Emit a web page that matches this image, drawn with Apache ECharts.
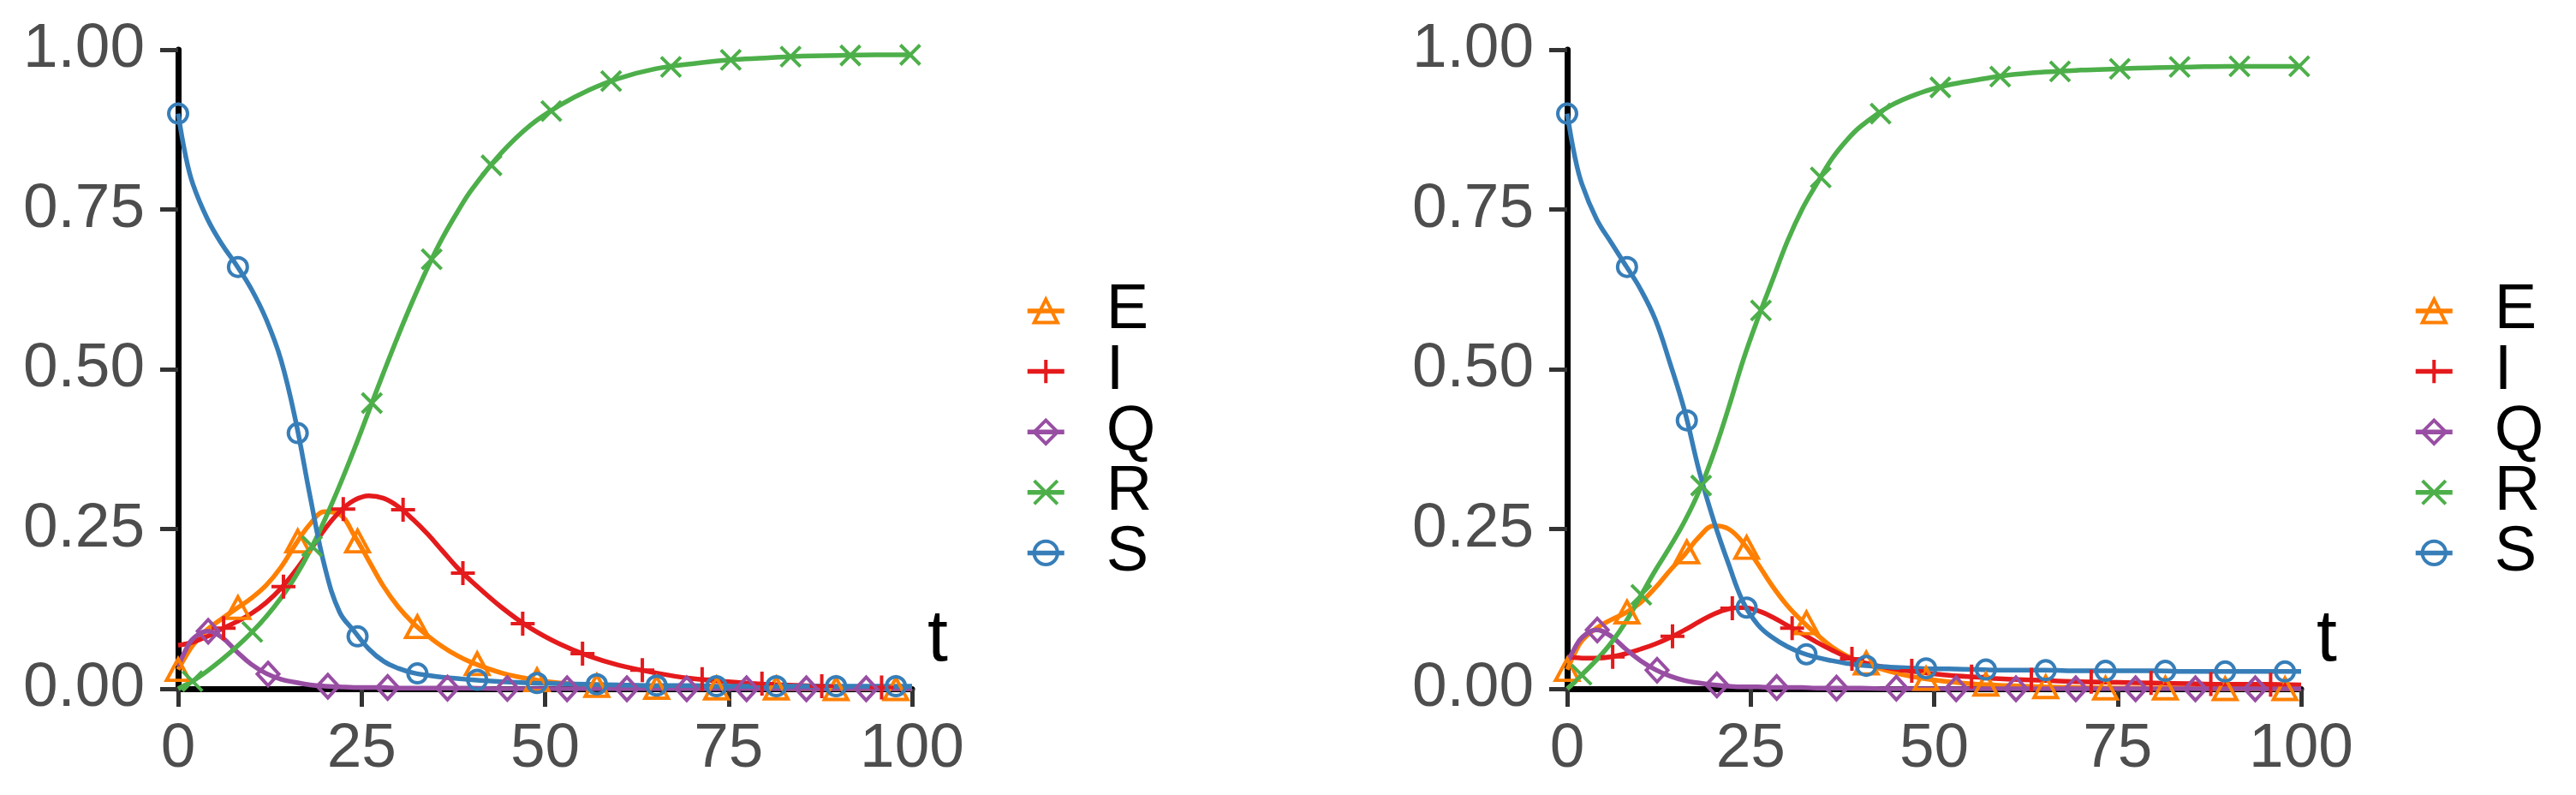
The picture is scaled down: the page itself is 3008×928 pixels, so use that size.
<!DOCTYPE html>
<html><head><meta charset="utf-8">
<script src="https://cdn.jsdelivr.net/npm/echarts@6/dist/echarts.min.js"></script>
<style>html,body{margin:0;padding:0;background:#fff}#c{width:3008px;height:928px}</style>
</head><body><div id="c"></div>
<script>
// ---- categories / styling keys ----
const seriesNames = ['E', 'I', 'Q', 'R', 'S'];
const colors = ['#FF7F00', '#E41A1C', '#984EA3', '#4DAF4A', '#377EB8'];
const xTicks = [0, 25, 50, 75, 100];
const yTicks = [0, 0.25, 0.5, 0.75, 1];
const xAxisTitle = 't';

// ---- time grid of the curves ----
const tLine = [0,1,2,4,6,8,10,12,14,16,18,20,22,24,26,28,30,32,34,36,38,40,44,48,52,56,60,65,70,75,80,85,90,95,100];

// ---- panel 1 curves ----
const E1 = [0.03,0.05,0.068,0.093,0.11,0.126,0.142,0.162,0.19,0.226,0.258,0.277,0.273,0.24,0.2,0.16,0.128,0.103,0.083,0.066,0.052,0.041,0.025,0.015,0.009,0.006,0.004,0.002,0.001,0.001,0.001,0,0,0,0];
const I1 = [0.068,0.07,0.073,0.082,0.094,0.105,0.118,0.135,0.157,0.185,0.217,0.25,0.277,0.295,0.302,0.298,0.285,0.265,0.242,0.216,0.19,0.168,0.128,0.095,0.07,0.051,0.037,0.025,0.016,0.011,0.007,0.005,0.003,0.002,0.001];
const Q1 = [0.035,0.06,0.078,0.09,0.08,0.058,0.038,0.024,0.015,0.01,0.006,0.004,0.003,0.002,0.002,0.002,0.001,0.001,0.001,0.001,0.001,0.001,0,0,0,0,0,0,0,0,0,0,0,0,0];
const R1 = [0,0.006,0.012,0.028,0.046,0.066,0.088,0.113,0.142,0.176,0.217,0.265,0.318,0.375,0.435,0.495,0.553,0.608,0.659,0.705,0.745,0.781,0.838,0.882,0.913,0.937,0.955,0.97,0.978,0.984,0.987,0.99,0.991,0.992,0.992];
const S1 = [0.9,0.835,0.79,0.735,0.695,0.662,0.625,0.578,0.515,0.42,0.3,0.19,0.12,0.09,0.062,0.043,0.032,0.025,0.021,0.018,0.016,0.014,0.011,0.009,0.008,0.007,0.006,0.005,0.005,0.004,0.004,0.004,0.004,0.004,0.004];

// ---- panel 2 curves ----
const E2 = [0.03,0.055,0.075,0.095,0.108,0.119,0.135,0.158,0.185,0.21,0.238,0.255,0.25,0.228,0.195,0.16,0.13,0.106,0.085,0.066,0.052,0.042,0.027,0.017,0.011,0.007,0.005,0.003,0.002,0.001,0.001,0.001,0,0,0];
const I2 = [0.05,0.049,0.048,0.048,0.05,0.055,0.062,0.07,0.08,0.092,0.105,0.117,0.125,0.127,0.122,0.112,0.099,0.086,0.073,0.061,0.05,0.042,0.032,0.026,0.021,0.018,0.015,0.013,0.011,0.01,0.009,0.008,0.007,0.007,0.006];
const Q2 = [0.04,0.063,0.08,0.092,0.082,0.062,0.044,0.03,0.02,0.013,0.009,0.006,0.004,0.003,0.003,0.002,0.002,0.002,0.001,0.001,0.001,0.001,0,0,0,0,0,0,0,0,0,0,0,0,0];
const R2 = [0,0.01,0.022,0.045,0.072,0.105,0.145,0.185,0.222,0.262,0.31,0.37,0.44,0.515,0.58,0.64,0.7,0.75,0.79,0.828,0.857,0.88,0.912,0.932,0.945,0.953,0.96,0.965,0.968,0.97,0.972,0.973,0.974,0.974,0.974];
const S2 = [0.9,0.835,0.79,0.735,0.698,0.662,0.625,0.578,0.51,0.435,0.34,0.262,0.195,0.135,0.1,0.08,0.066,0.056,0.049,0.044,0.04,0.037,0.034,0.032,0.031,0.03,0.029,0.029,0.028,0.028,0.028,0.027,0.027,0.027,0.027];

// ---- marker times ----
const tMarkE = [0,8.15,16.3,24.45,32.6,40.75,48.9,57.05,65.2,73.35,81.5,89.65,97.8];
const tMarkI = [6.2,14.35,22.5,30.65,38.8,46.95,55.1,63.25,71.4,79.55,87.7,95.85];
const tMarkQ = [4.1,12.25,20.4,28.55,36.7,44.85,53,61.15,69.3,77.45,85.6,93.75];
const tMarkR = [1.95,10.1,18.25,26.4,34.55,42.7,50.85,59,67.15,75.3,83.45,91.6,99.75];
const tMarkS = [0,8.15,16.3,24.45,32.6,40.75,48.9,57.05,65.2,73.35,81.5,89.65,97.8];

// ---- panel 1 marker values ----
const E1m = [0.03,0.127,0.231,0.231,0.097,0.039,0.014,0.005,0.002,0.001,0.001,0,0];
const I1m = [0.095,0.16,0.281,0.28,0.181,0.102,0.055,0.029,0.015,0.008,0.004,0.002];
const Q1m = [0.09,0.023,0.004,0.002,0.001,0.0005,0,0,0,0,0,0];
const R1m = [0.012,0.089,0.223,0.447,0.672,0.819,0.904,0.951,0.973,0.984,0.989,0.991,0.992];
const S1m = [0.9,0.66,0.4,0.082,0.024,0.014,0.009,0.007,0.005,0.004,0.004,0.004,0.004];

// ---- panel 2 marker values ----
const E2m = [0.03,0.12,0.214,0.221,0.103,0.04,0.016,0.007,0.003,0.001,0.001,0,0];
const I2m = [0.05,0.082,0.126,0.095,0.047,0.028,0.019,0.014,0.011,0.009,0.0075,0.0065];
const Q2m = [0.092,0.029,0.006,0.002,0.001,0.001,0,0,0,0,0,0];
const R2m = [0.022,0.147,0.318,0.592,0.8,0.9,0.941,0.958,0.966,0.97,0.973,0.974,0.974];
const S2m = [0.9,0.66,0.42,0.127,0.054,0.036,0.032,0.03,0.029,0.028,0.028,0.027,0.027];

// ---- build ----
const FONT = 'Liberation Sans, Arial, Helvetica, sans-serif';
const symbols = ['triangle', 'path://M0,6L12,6M6,0L6,12', 'diamond', 'path://M0,0L12,12M12,0L0,12', 'circle'];
const symbolSizes = [[27, 25], 28, [25, 27], 23, 22];
const panels = [
  { lines: [E1, I1, Q1, R1, S1], marks: [E1m, I1m, Q1m, R1m, S1m] },
  { lines: [E2, I2, Q2, R2, S2], marks: [E2m, I2m, Q2m, R2m, S2m] }
];
const markTimes = [tMarkE, tMarkI, tMarkQ, tMarkR, tMarkS];
const pairs = (ts, vs) => ts.map((t, i) => [t, vs[i]]);

const grids = [
  { left: 208, top: 58, width: 857, height: 746 },
  { left: 1830, top: 58, width: 857, height: 746 }
].map(g => Object.assign({ outerBoundsMode: 'none', containLabel: false }, g));

const xAxes = [], yAxes = [], series = [];
panels.forEach((p, pi) => {
  xAxes.push({
    type: 'value', gridIndex: pi, min: xTicks[0], max: xTicks[xTicks.length - 1], interval: 25,
    name: xAxisTitle, nameLocation: 'end', nameGap: 18,
    nameTextStyle: { fontSize: 86, color: '#000', fontFamily: FONT, verticalAlign: 'bottom', align: 'left', padding: [0, 0, 14, 0] },
    splitLine: { show: false },
    axisLine: { show: true, lineStyle: { color: '#000', width: 7 } },
    axisTick: { show: true, length: 21, lineStyle: { color: '#333', width: 5 } },
    axisLabel: { fontSize: 73, color: '#4D4D4D', fontFamily: FONT, margin: 34, formatter: v => String(v) }
  });
  yAxes.push({
    type: 'value', gridIndex: pi, min: yTicks[0], max: yTicks[yTicks.length - 1], interval: 0.25,
    splitLine: { show: false },
    axisLine: { show: true, lineStyle: { color: '#000', width: 7 } },
    axisTick: { show: true, length: 21, lineStyle: { color: '#333', width: 5 } },
    axisLabel: { fontSize: 73, color: '#4D4D4D', fontFamily: FONT, margin: 39, formatter: v => v.toFixed(2) }
  });
  p.lines.forEach((vals, si) => {
    series.push({
      name: seriesNames[si], type: 'line', xAxisIndex: pi, yAxisIndex: pi,
      data: pairs(tLine, vals), smooth: 0.4, showSymbol: false, symbol: symbols[si],
      lineStyle: { color: colors[si], width: 5.5 }, itemStyle: { color: colors[si] },
      z: 2, animation: false, silent: true
    });
  });
  p.marks.forEach((vals, si) => {
    series.push({
      name: seriesNames[si] + '_pts' + pi, type: 'scatter', xAxisIndex: pi, yAxisIndex: pi,
      data: pairs(markTimes[si], vals), symbol: symbols[si], symbolSize: symbolSizes[si],
      itemStyle: { color: 'rgba(0,0,0,0)', borderColor: colors[si], borderWidth: 4, opacity: 1 },
      z: 3, animation: false, silent: true
    });
  });
});

const legendData = seriesNames.map((n, i) => ({
  name: n,
  itemStyle: { color: 'rgba(0,0,0,0)', borderColor: colors[i], borderWidth: 4 },
  lineStyle: { color: colors[i], width: 5.5 }
}));
const mkLegend = left => ({
  orient: 'vertical', left: left, top: 321, itemWidth: 43, itemHeight: 34, itemGap: -3.4,
  selectedMode: false, data: legendData,
  textStyle: { fontSize: 74, color: '#000', fontFamily: FONT, padding: [0, 0, 0, 44] }
});

const chart = echarts.init(document.getElementById('c'), null, { renderer: 'canvas' });
chart.setOption({
  backgroundColor: '#fff',
  animation: false,
  grid: grids,
  xAxis: xAxes,
  yAxis: yAxes,
  legend: [mkLegend(1192), mkLegend(2813)],
  series: series
});
</script></body></html>
